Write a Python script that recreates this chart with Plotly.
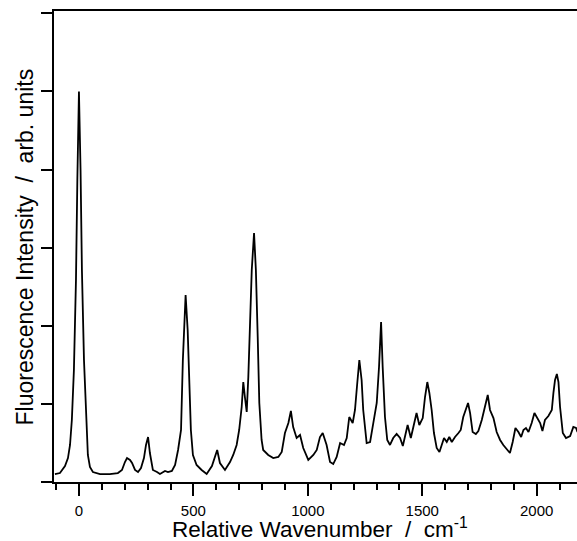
import plotly.graph_objects as go

# Relative wavenumber (cm^-1)
wavenumber = [-105, -83, -61, -48, -39, -31, -22, -13, -7, 0, 7, 13, 22, 31, 39, 48, 61, 92, 135, 170,
              188, 201, 210, 223, 232, 245, 258, 271, 284, 293, 302, 310, 323, 341, 354, 376, 389, 406, 420, 433,
              446, 454, 460, 466, 475, 482, 489, 498, 514, 536, 558, 581, 604, 616, 638, 660, 674, 689, 700, 711,
              718, 725, 733, 740, 747, 755, 765, 773, 781, 788, 798, 805, 827, 849, 871, 886, 900, 915, 926, 936,
              951, 966, 980, 1002, 1024, 1039, 1053, 1065, 1082, 1097, 1111, 1126, 1141, 1158, 1170, 1181, 1196, 1206, 1216, 1225,
              1235, 1242, 1257, 1272, 1286, 1301, 1311, 1320, 1327, 1337, 1347, 1359, 1373, 1388, 1403, 1415, 1426, 1436, 1450, 1475,
              1487, 1502, 1512, 1522, 1531, 1541, 1551, 1563, 1575, 1585, 1595, 1607, 1618, 1629, 1643, 1658, 1668, 1679, 1691, 1700,
              1709, 1720, 1734, 1745, 1760, 1774, 1786, 1796, 1811, 1825, 1840, 1854, 1869, 1883, 1895, 1907, 1920, 1932, 1942, 1953,
              1964, 1978, 1990, 2003, 2015, 2025, 2036, 2051, 2066, 2073, 2080, 2088, 2095, 2102, 2114, 2128, 2146, 2160, 2172, 2178]

intensity = [0.102, 0.115, 0.205, 0.307, 0.474, 0.794, 1.434, 2.586, 3.867, 5.0, 3.995, 2.714, 1.562, 0.794, 0.346, 0.192, 0.128, 0.102, 0.102, 0.115,
             0.154, 0.256, 0.307, 0.282, 0.243, 0.154, 0.128, 0.179, 0.307, 0.474, 0.576, 0.371, 0.154, 0.128, 0.102, 0.141, 0.128, 0.141, 0.218, 0.410,
             0.666, 1.562, 2.074, 2.394, 1.946, 1.178, 0.666, 0.346, 0.218, 0.154, 0.102, 0.205, 0.410, 0.243, 0.154, 0.256, 0.346, 0.474, 0.666, 0.960,
             1.280, 1.088, 0.896, 1.344, 2.074, 2.714, 3.188, 2.714, 1.857, 1.012, 0.538, 0.410, 0.346, 0.307, 0.320, 0.384, 0.627, 0.755, 0.909, 0.704,
             0.563, 0.602, 0.435, 0.282, 0.346, 0.410, 0.576, 0.627, 0.474, 0.256, 0.230, 0.320, 0.499, 0.474, 0.563, 0.832, 0.755, 0.922, 1.268, 1.562,
             1.306, 0.922, 0.499, 0.512, 0.755, 1.012, 1.472, 2.049, 1.472, 0.832, 0.538, 0.474, 0.563, 0.615, 0.563, 0.461, 0.602, 0.730, 0.563, 0.883,
             0.730, 0.819, 1.088, 1.280, 1.140, 0.922, 0.627, 0.435, 0.384, 0.474, 0.563, 0.512, 0.576, 0.512, 0.576, 0.627, 0.666, 0.832, 0.947, 1.012,
             0.883, 0.640, 0.615, 0.653, 0.794, 0.960, 1.114, 0.922, 0.819, 0.640, 0.538, 0.474, 0.423, 0.371, 0.512, 0.691, 0.640, 0.576, 0.666, 0.691,
             0.640, 0.755, 0.883, 0.819, 0.755, 0.653, 0.794, 0.845, 0.922, 1.140, 1.306, 1.383, 1.280, 0.960, 0.627, 0.563, 0.589, 0.704, 0.691, 0.640]

x_tickvals = [0, 500, 1000, 1500, 2000]
x_ticktext = ["0", "500", "1000", "1500", "2000"]
y_tickvals = [0, 1, 2, 3, 4, 5, 6]

x_title = "Relative Wavenumber\u00a0\u00a0/\u00a0\u00a0cm<sup>-1</sup>"
y_title = "Fluorescence Intensity\u00a0\u00a0/\u00a0\u00a0arb. units"

fig = go.Figure()
fig.add_trace(go.Scatter(x=wavenumber, y=intensity, mode="lines",
                         line=dict(color="black", width=1.8), showlegend=False))

font_family = "Liberation Sans, Arial, sans-serif"
fig.update_layout(
    width=577, height=541,
    margin=dict(l=54, r=0, t=11, b=59, autoexpand=False),
    paper_bgcolor="white", plot_bgcolor="white",
    font=dict(family=font_family, color="black"),
    xaxis=dict(
        range=[-109, 2176], automargin=False,
        tickvals=x_tickvals, ticktext=x_ticktext,
        ticks="outside", ticklen=12, tickwidth=1.5, tickcolor="black",
        minor=dict(dtick=100, tick0=0, ticks="outside", ticklen=6, tickwidth=1.5, tickcolor="black", showgrid=False),
        showline=True, linecolor="black", linewidth=1.5, mirror=True,
        showgrid=False, zeroline=False,
        tickfont=dict(size=15, family=font_family, color="black"),
        ticklabelstandoff=2,
    ),
    yaxis=dict(
        range=[0, 6.03], automargin=False,
        tickvals=y_tickvals, showticklabels=False,
        ticks="outside", ticklen=11, tickwidth=1.5, tickcolor="black",
        showline=True, linecolor="black", linewidth=1.5, mirror=False,
        showgrid=False, zeroline=False,
    ),
    annotations=[
        dict(text=x_title, xref="paper", yref="paper", x=0.509, y=-0.098,
             xanchor="center", yanchor="middle", showarrow=False,
             font=dict(size=22.5, family=font_family, color="black")),
        dict(text=y_title, xref="paper", yref="paper", x=-0.0554, y=0.498,
             xanchor="center", yanchor="middle", showarrow=False, textangle=-90,
             font=dict(size=23, family=font_family, color="black")),
    ],
)

fig.write_html("out.html", config={"displayModeBar": False},
               post_script="document.body.style.margin='0';document.body.style.overflow='hidden';")
